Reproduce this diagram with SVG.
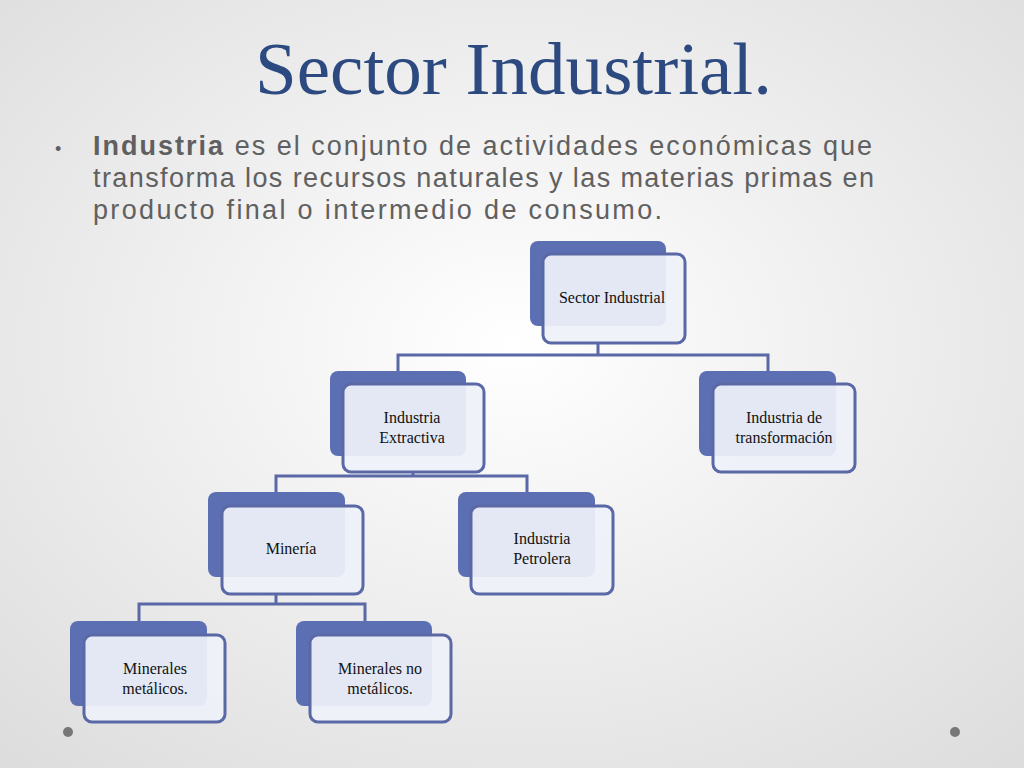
<svg xmlns="http://www.w3.org/2000/svg" width="1024" height="768" viewBox="0 0 1024 768">
<defs>
<radialGradient id="bg" cx="0.5" cy="0.45" r="0.75"><stop offset="0" stop-color="#ffffff"/><stop offset="1" stop-color="#dcdcdc"/></radialGradient>
</defs>
<style>
.b{fill:#5c6fb3}
.f{fill:#eef1f9;fill-opacity:0.93;stroke:#5a69a6;stroke-width:3}
.t{font-family:"Liberation Serif",serif;font-size:16px;fill:#111;text-anchor:middle}
.c{fill:none;stroke:#5a69a6;stroke-width:3}
</style>
<rect width="1024" height="768" fill="url(#bg)"/>
<text x="255" y="94" font-family="Liberation Serif,serif" font-size="74" fill="#2c4a80" textLength="517" lengthAdjust="spacingAndGlyphs">Sector Industrial.</text>
<g font-family="Liberation Sans,Arial,sans-serif" font-size="27" fill="#606060" lengthAdjust="spacingAndGlyphs">
<text x="55" y="155" font-size="18">•</text>
<text x="93" y="155" textLength="779"><tspan font-weight="bold">Industria</tspan> es el conjunto de actividades económicas que</text>
<text x="93" y="187" textLength="781">transforma los recursos naturales y las materias primas en</text>
<text x="93" y="219" textLength="569">producto final o intermedio de consumo.</text>
</g>
<g id="connectors">
<path class="c" d="M598 343V355M398 371V355H768V371"/>
<path class="c" d="M413 472V476M276 492V476H527V492"/>
<path class="c" d="M276 594V604M139 621V604H365V621"/>
</g>
<g id="n1"><rect class="b" x="530" y="241" width="136" height="85" rx="8"/><rect class="f" x="543" y="254" width="142" height="89" rx="8"/><text class="t" x="612" y="303">Sector Industrial</text></g>
<g id="n2"><rect class="b" x="330" y="371" width="136" height="85" rx="8"/><rect class="f" x="343" y="384" width="141" height="88" rx="8"/><text class="t" x="412" y="423">Industria</text><text class="t" x="412" y="443">Extractiva</text></g>
<g id="n3"><rect class="b" x="699" y="371" width="137" height="85" rx="8"/><rect class="f" x="713" y="384" width="142" height="88" rx="8"/><text class="t" x="784" y="423">Industria de</text><text class="t" x="784" y="443">transformación</text></g>
<g id="n4"><rect class="b" x="208" y="492" width="137" height="85" rx="8"/><rect class="f" x="222" y="506" width="141" height="88" rx="8"/><text class="t" x="291" y="554">Minería</text></g>
<g id="n5"><rect class="b" x="458" y="492" width="137" height="85" rx="8"/><rect class="f" x="471" y="506" width="142" height="88" rx="8"/><text class="t" x="542" y="544">Industria</text><text class="t" x="542" y="564">Petrolera</text></g>
<g id="n6"><rect class="b" x="70" y="621" width="137" height="85" rx="8"/><rect class="f" x="84" y="635" width="141" height="87" rx="8"/><text class="t" x="155" y="674">Minerales</text><text class="t" x="155" y="694">metálicos.</text></g>
<g id="n7"><rect class="b" x="296" y="621" width="136" height="85" rx="8"/><rect class="f" x="310" y="635" width="141" height="87" rx="8"/><text class="t" x="380" y="674">Minerales no</text><text class="t" x="380" y="694">metálicos.</text></g>
<circle cx="68" cy="732" r="5" fill="#777"/>
<circle cx="955" cy="732" r="5" fill="#777"/>
</svg>
